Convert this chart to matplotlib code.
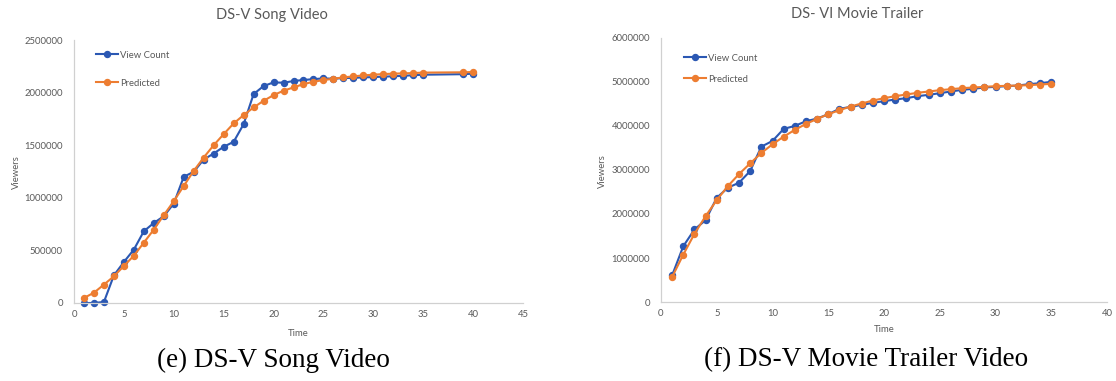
import numpy as np
import matplotlib
matplotlib.use("Agg")
import matplotlib.pyplot as plt

# Song video (DS-V): cumulative views vs. model prediction
song_time = [1, 2, 3, 4, 5, 6, 7, 8, 9, 10, 11, 12, 13, 14, 15, 16, 17, 18, 19, 20,
             21, 22, 23, 24, 25, 26, 27, 28, 29, 30, 31, 32, 33, 34, 35, 39, 40]
song_views = [0, 0, 10000, 263000, 390000, 508000, 682000, 761000, 825000, 945000,
              1200000, 1247000, 1364000, 1421000, 1485000, 1532000, 1700000, 1986000,
              2062000, 2097000, 2094000, 2110000, 2120000, 2128000, 2135000, 2132000,
              2138000, 2140000, 2145000, 2147000, 2152000, 2155000, 2160000, 2165000,
              2170000, 2175000, 2180000]
song_pred = [48000, 98000, 175000, 254000, 352000, 450000, 574000, 698000, 835000,
             968000, 1113000, 1256000, 1383000, 1500000, 1605000, 1707000, 1786000,
             1859000, 1922000, 1976000, 2018000, 2049000, 2081000, 2103000, 2119000,
             2132000, 2145000, 2154000, 2164000, 2170000, 2176000, 2180000, 2183000,
             2186000, 2190000, 2193000, 2196000]

# Movie trailer (DS-VI)
trailer_time = list(range(1, 36))
trailer_views = [607000, 1268000, 1648000, 1860000, 2369000, 2597000, 2711000, 2977000,
                 3531000, 3660000, 3934000, 4002000, 4108000, 4169000, 4268000, 4390000,
                 4435000, 4480000, 4526000, 4564000, 4602000, 4632000, 4678000, 4708000,
                 4746000, 4784000, 4822000, 4845000, 4875000, 4890000, 4905000, 4920000,
                 4951000, 4973000, 5004000]
trailer_pred = [570000, 1078000, 1549000, 1951000, 2316000, 2635000, 2908000, 3151000,
                3387000, 3584000, 3759000, 3911000, 4048000, 4161000, 4268000, 4359000,
                4443000, 4511000, 4579000, 4632000, 4678000, 4716000, 4754000, 4784000,
                4814000, 4837000, 4860000, 4875000, 4890000, 4905000, 4913000, 4920000,
                4928000, 4943000, 4958000]

BLUE = "#2B58B3"
ORANGE = "#ED7D31"
GRAY = "#595959"
FONT = ["Lato", "DejaVu Sans"]

W, H = 1116, 381
fig = plt.figure(figsize=(W / 100, H / 100), dpi=100)


def px(x0, y0, x1, y1):
    # pixel box -> figure fraction rect
    return [x0 / W, 1 - y1 / H, (x1 - x0) / W, (y1 - y0) / H]


def setup(ax, xmax, ymax, ystep):
    ax.set_xlim(0, xmax)
    ax.set_ylim(0, ymax)
    ax.set_xticks(np.arange(0, xmax + 1, 5))
    ax.set_yticks(np.arange(0, ymax + 1, ystep))
    ax.set_yticklabels([str(int(v)) for v in np.arange(0, ymax + 1, ystep)])
    for s in ["top", "right"]:
        ax.spines[s].set_visible(False)
    for s in ["left", "bottom"]:
        ax.spines[s].set_color("#D0D0D0")
        ax.spines[s].set_linewidth(0.9)
    ax.tick_params(length=0, labelsize=6.8, labelcolor=GRAY)
    ax.tick_params(axis="y", pad=8)
    ax.tick_params(axis="x", pad=5)
    for lab in ax.get_xticklabels() + ax.get_yticklabels():
        lab.set_family(FONT)


def draw(ax, t, views, pred):
    ax.plot(t, views, color=BLUE, lw=1.5, marker="o", ms=4.3, label="View Count",
            clip_on=False)
    ax.plot(t, pred, color=ORANGE, lw=1.5, marker="o", ms=4.3, label="Predicted",
            clip_on=False)


ax1 = fig.add_axes(px(74, 40, 523, 303))
setup(ax1, 45, 2500000, 500000)
draw(ax1, song_time, song_views, song_pred)
ax1.legend(loc="upper left", bbox_to_anchor=(91 / W, 1 - 46 / H),
           bbox_transform=fig.transFigure, frameon=False, borderpad=0,
           handlelength=2.4, handletextpad=0.2, labelspacing=2.0,
           prop={"family": FONT, "size": 6.8}, labelcolor=GRAY)

ax2 = fig.add_axes(px(661, 38, 1107, 302))
setup(ax2, 40, 6000000, 1000000)
draw(ax2, trailer_time, trailer_views, trailer_pred)
ax2.legend(loc="upper left", bbox_to_anchor=(679 / W, 1 - 49 / H),
           bbox_transform=fig.transFigure, frameon=False, borderpad=0,
           handlelength=2.4, handletextpad=0.2, labelspacing=1.25,
           prop={"family": FONT, "size": 6.8}, labelcolor=GRAY)

# chart titles and axis titles
fig.text(272 / W, 1 - 15 / H, "DS-V Song Video", ha="center", va="center",
         family=FONT, size=10.5, color=GRAY)
fig.text(857 / W, 1 - 14 / H, "DS- VI Movie Trailer", ha="center", va="center",
         family=FONT, size=10.5, color=GRAY)
fig.text(298 / W, 1 - 334 / H, "Time", ha="center", va="center",
         family=FONT, size=6.8, color=GRAY)
fig.text(884 / W, 1 - 329 / H, "Time", ha="center", va="center",
         family=FONT, size=6.8, color=GRAY)
fig.text(16 / W, 1 - 172 / H, "Viewers", ha="center", va="center", rotation=90,
         family=FONT, size=6.8, color=GRAY)
fig.text(602 / W, 1 - 171 / H, "Viewers", ha="center", va="center", rotation=90,
         family=FONT, size=6.8, color=GRAY)

# subfigure captions
fig.text(273 / W, 1 - 360 / H, "(e) DS-V Song Video", ha="center", va="center",
         family="Liberation Serif", size=19.5, color="black")
fig.text(866 / W, 1 - 360 / H, "(f) DS-V Movie Trailer Video", ha="center",
         va="center", family="Liberation Serif", size=19.5, color="black")

fig.savefig("out.png", dpi=100)
